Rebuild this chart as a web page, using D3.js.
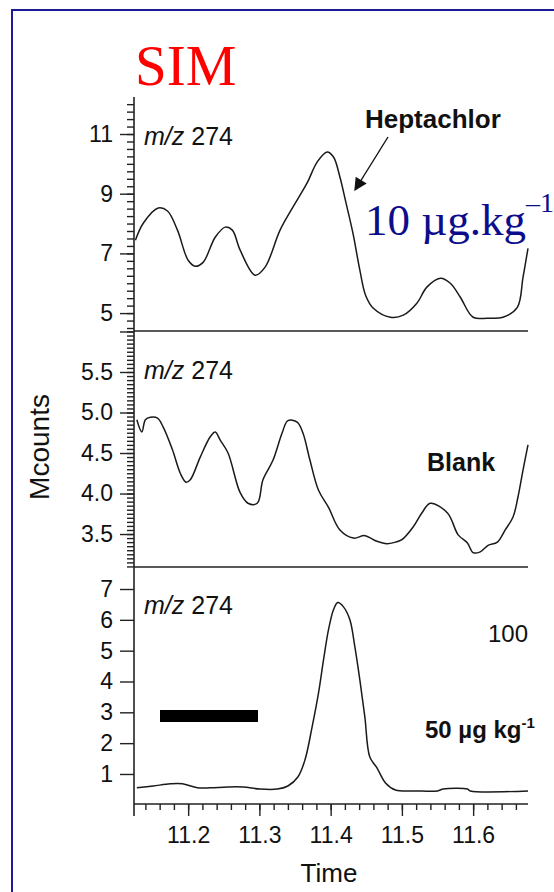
<html>
<meta charset="utf-8">

<head>
    <script src="https://d3js.org/d3.v7.min.js" type="text/javascript"></script>
    <style>
        body { margin: 0; background: #fff; }
        svg { display: block; }
        text { font-family: "Liberation Sans", Arial, sans-serif; fill: #111; }
    </style>
</head>

<body>
    <div id="center"></div>

    <script>
        // time axis (min)
        var timeRange = [11.124, 11.677];
        var timeTicks = [11.2, 11.3, 11.4, 11.5, 11.6];

        // Mcounts ticks for each trace
        var spikedTicks = [5, 7, 9, 11];
        var blankTicks = [3.5, 4.0, 4.5, 5.0, 5.5, 6.0];
        var highTicks = [1, 2, 3, 4, 5, 6, 7];

        // m/z 274 traces, [time, Mcounts]
        var spiked10 = [
            [11.126, 7.44], [11.137, 8.01], [11.158, 8.52], [11.171, 8.42], [11.185, 7.78],
            [11.2, 6.77], [11.21, 6.57], [11.221, 6.70], [11.238, 7.54], [11.252, 7.88],
            [11.262, 7.78], [11.273, 7.11], [11.294, 6.27], [11.308, 6.54], [11.329, 7.78],
            [11.347, 8.55], [11.367, 9.36], [11.381, 10.06], [11.395, 10.40], [11.404, 10.23],
            [11.413, 9.56], [11.421, 8.75], [11.431, 7.71], [11.441, 6.44], [11.449, 5.60],
            [11.46, 5.16], [11.484, 4.86], [11.502, 4.93], [11.521, 5.33], [11.535, 5.87],
            [11.554, 6.17], [11.568, 6.00], [11.582, 5.53], [11.6, 4.86], [11.62, 4.83],
            [11.642, 4.86], [11.662, 5.19], [11.67, 6.20], [11.677, 7.17]
        ];

        var blank = [
            [11.128, 4.91], [11.135, 4.76], [11.140, 4.91], [11.147, 4.94], [11.157, 4.93],
            [11.165, 4.82], [11.178, 4.54], [11.189, 4.25], [11.197, 4.14], [11.203, 4.17],
            [11.217, 4.45], [11.231, 4.70], [11.238, 4.76], [11.245, 4.66], [11.256, 4.50],
            [11.273, 4.01], [11.284, 3.88], [11.297, 3.88], [11.305, 4.17], [11.319, 4.41],
            [11.332, 4.75], [11.340, 4.90], [11.353, 4.88], [11.361, 4.75], [11.371, 4.41],
            [11.383, 4.04], [11.397, 3.83], [11.413, 3.55], [11.432, 3.45], [11.448, 3.48],
            [11.465, 3.41], [11.479, 3.38], [11.491, 3.40], [11.500, 3.43], [11.516, 3.59],
            [11.528, 3.76], [11.540, 3.88], [11.564, 3.76], [11.579, 3.49], [11.592, 3.39],
            [11.600, 3.27], [11.610, 3.28], [11.621, 3.36], [11.634, 3.40], [11.645, 3.55],
            [11.656, 3.71], [11.663, 3.96], [11.670, 4.29], [11.677, 4.60]
        ];

        var spiked50 = [
            [11.128, 0.55], [11.151, 0.61], [11.175, 0.68], [11.192, 0.68], [11.213, 0.55],
            [11.231, 0.55], [11.255, 0.58], [11.277, 0.58], [11.301, 0.51], [11.325, 0.51],
            [11.340, 0.61], [11.354, 0.90], [11.364, 1.46], [11.374, 2.53], [11.383, 3.63],
            [11.390, 4.70], [11.397, 5.68], [11.404, 6.33], [11.410, 6.56], [11.418, 6.42],
            [11.427, 6.00], [11.434, 5.12], [11.441, 4.05], [11.448, 2.85], [11.455, 1.55],
            [11.465, 1.20], [11.477, 0.71], [11.491, 0.48], [11.521, 0.45], [11.550, 0.45],
            [11.558, 0.51], [11.592, 0.51], [11.596, 0.45], [11.677, 0.45]
        ];

        var w = 554;
        var h = 892;
        var axisX = 134;
        var rightX = 528;

        var svg = d3.select("#center")
            .append("svg")
            .attr("width", w)
            .attr("height", h);

        // slide frame
        svg.append("rect")
            .attr("x", 12)
            .attr("y", 10)
            .attr("width", 700)
            .attr("height", 1000)
            .attr("fill", "none")
            .attr("stroke", "#1c1c96")
            .attr("stroke-width", 2);

        var x = d3.scaleLinear().domain(timeRange).range([axisX, rightX]);

        var panels = [
            { data: spiked10, domain: [4.4, 12.24], range: [331, 97], ticks: spikedTicks,
              minor: d3.range(4.5, 12.01, 0.25), fmt: d3.format("d"), lab: 145 },
            { data: blank, domain: [3.093, 6.006], range: [567, 331], ticks: blankTicks,
              minor: d3.range(3.1, 6.001, 0.05), fmt: function(d) { return d == 6 ? "" : d3.format(".1f")(d); }, lab: 379 },
            { data: spiked50, domain: [0.026, 7.714], range: [804, 567], ticks: highTicks,
              minor: [], fmt: d3.format("d"), lab: 614 }
        ];

        panels.forEach(function(p) {
            var y = d3.scaleLinear().domain(p.domain).range(p.range);

            var minorAxis = svg.append("g")
                .attr("transform", "translate(" + axisX + ",0)")
                .call(d3.axisLeft(y).tickValues(p.minor).tickSize(7).tickFormat(""));
            minorAxis.select(".domain").remove();

            var majorAxis = svg.append("g")
                .attr("transform", "translate(" + axisX + ",0)")
                .call(d3.axisLeft(y).tickValues(p.ticks).tickSize(14).tickPadding(7).tickFormat(p.fmt));
            majorAxis.select(".domain").remove();
            majorAxis.selectAll("text")
                .style("font-size", "23px")
                .style("font-family", "'Liberation Sans', Arial, sans-serif")
                .attr("fill", "#111");

            svg.selectAll(null).data([p]).enter()
                .append("line")
                .attr("x1", axisX).attr("x2", rightX)
                .attr("y1", p.range[0]).attr("y2", p.range[0])
                .attr("stroke", "#222")
                .attr("stroke-width", 1.6);

            var line = d3.line()
                .x(function(d) { return x(d[0]); })
                .y(function(d) { return y(d[1]); })
                .curve(d3.curveCatmullRom.alpha(0.5));

            svg.append("path")
                .datum(p.data)
                .attr("d", line)
                .attr("fill", "none")
                .attr("stroke", "#1a1a1a")
                .attr("stroke-width", 1.5);

            var mz = svg.append("text")
                .attr("x", 144)
                .attr("y", p.lab)
                .style("font-size", "25px");
            mz.append("tspan").style("font-style", "italic").text("m/z");
            mz.append("tspan").text(" 274");
        });

        // common vertical axis line
        svg.append("line")
            .attr("x1", axisX).attr("x2", axisX)
            .attr("y1", 97).attr("y2", 816)
            .attr("stroke", "#222")
            .attr("stroke-width", 1.6);

        // time axis
        var minorX = svg.append("g")
            .attr("transform", "translate(0,804)")
            .call(d3.axisBottom(x).tickValues(d3.range(11.14, 11.67, 0.02)).tickSize(6).tickFormat(""));
        minorX.select(".domain").remove();

        var majorX = svg.append("g")
            .attr("transform", "translate(0,804)")
            .call(d3.axisBottom(x).tickValues(timeTicks).tickSize(12).tickPadding(11).tickFormat(d3.format(".1f")));
        majorX.select(".domain").remove();
        majorX.selectAll("text")
            .style("font-size", "23px")
            .style("font-family", "'Liberation Sans', Arial, sans-serif")
            .attr("fill", "#111");
        svg.selectAll(".tick line").attr("stroke", "#222").attr("stroke-width", 1.4);

        svg.append("text")
            .attr("x", 329)
            .attr("y", 882)
            .attr("text-anchor", "middle")
            .style("font-size", "26px")
            .text("Time");

        svg.append("text")
            .attr("transform", "translate(39,447) rotate(-90)")
            .attr("text-anchor", "middle")
            .attr("dy", "0.35em")
            .style("font-size", "28px")
            .text("Mcounts");

        // annotations
        svg.append("text")
            .attr("x", 135)
            .attr("y", 85)
            .style("fill", "#ff0000")
            .style("font-family", "'Liberation Serif', 'Times New Roman', serif")
            .style("font-size", "57px")
            .text("SIM");

        svg.append("text")
            .attr("x", 365)
            .attr("y", 128)
            .style("font-size", "26px")
            .style("font-weight", "bold")
            .text("Heptachlor");

        svg.append("defs").append("marker")
            .attr("id", "head")
            .attr("viewBox", "0 0 10 10")
            .attr("refX", 9)
            .attr("refY", 5)
            .attr("markerWidth", 16)
            .attr("markerHeight", 13)
            .attr("markerUnits", "userSpaceOnUse")
            .attr("orient", "auto")
            .append("path")
            .attr("d", "M0,0L10,5L0,10Z")
            .attr("fill", "#111");

        svg.append("line")
            .attr("x1", 388).attr("y1", 137)
            .attr("x2", 355).attr("y2", 190)
            .attr("stroke", "#111")
            .attr("stroke-width", 1.4)
            .attr("marker-end", "url(#head)");

        var conc = svg.append("text")
            .attr("x", 365)
            .attr("y", 235)
            .style("fill", "#0d0d8c")
            .style("font-family", "'Liberation Serif', 'Times New Roman', serif")
            .style("font-size", "45px");
        conc.append("tspan").text("10 \u00b5g.kg");
        conc.append("tspan").attr("dy", -23).style("font-size", "28px").text("\u20131");

        svg.append("text")
            .attr("x", 427)
            .attr("y", 471)
            .style("font-size", "25px")
            .style("font-weight", "bold")
            .text("Blank");

        svg.append("text")
            .attr("x", 528)
            .attr("y", 642)
            .attr("text-anchor", "end")
            .style("font-size", "24px")
            .text("100");

        var c50 = svg.append("text")
            .attr("x", 425)
            .attr("y", 738)
            .style("font-size", "24px")
            .style("font-weight", "bold");
        c50.append("tspan").text("50 \u00b5g kg");
        c50.append("tspan").attr("dy", -10).style("font-size", "15px").text("-1");

        svg.append("rect")
            .attr("x", 160)
            .attr("y", 710)
            .attr("width", 98)
            .attr("height", 12)
            .attr("fill", "#000");
    </script>
</body>

</html>
